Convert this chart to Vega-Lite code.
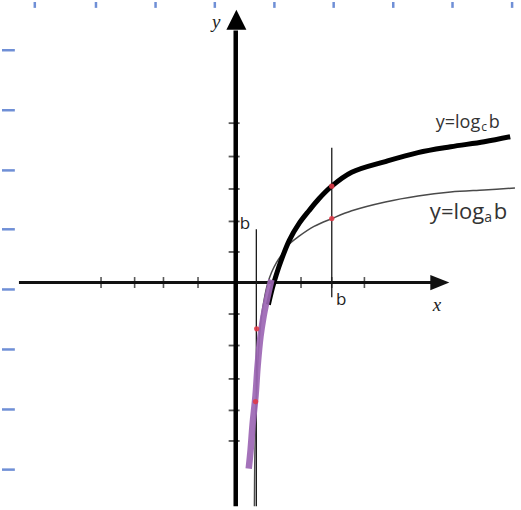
{
  "$schema": "https://vega.github.io/schema/vega-lite/v6.json",
  "width": 521,
  "height": 510,
  "autosize": {"type": "fit", "contains": "padding"},
  "padding": 0,
  "background": "white",
  "config": {"view": {"stroke": null}},
  "datasets": {
    "grid": [
      {"x": -6.34, "y": 8.906, "x2": -6.34, "y2": 8.72},
      {"x": -4.41, "y": 8.906, "x2": -4.41, "y2": 8.72},
      {"x": -2.53, "y": 8.906, "x2": -2.53, "y2": 8.72},
      {"x": -0.66, "y": 8.906, "x2": -0.66, "y2": 8.72},
      {"x": 1.22, "y": 8.906, "x2": 1.22, "y2": 8.72},
      {"x": 3.09, "y": 8.906, "x2": 3.09, "y2": 8.72},
      {"x": 4.97, "y": 8.906, "x2": 4.97, "y2": 8.72},
      {"x": 6.84, "y": 8.906, "x2": 6.84, "y2": 8.72},
      {"x": 8.72, "y": 8.906, "x2": 8.72, "y2": 8.72},
      {"x": -7.375, "y": 7.375, "x2": -6.97, "y2": 7.375},
      {"x": -7.375, "y": 5.47, "x2": -6.97, "y2": 5.47},
      {"x": -7.375, "y": 3.56, "x2": -6.97, "y2": 3.56},
      {"x": -7.375, "y": 1.69, "x2": -6.97, "y2": 1.69},
      {"x": -7.375, "y": -0.22, "x2": -6.97, "y2": -0.22},
      {"x": -7.375, "y": -2.125, "x2": -6.97, "y2": -2.125},
      {"x": -7.375, "y": -4.03, "x2": -6.97, "y2": -4.03},
      {"x": -7.375, "y": -5.94, "x2": -6.97, "y2": -5.94}
    ],
    "xaxis": [{"x": -6.84, "y": 0, "x2": 6.2, "y2": 0}],
    "yaxis": [{"x": 0, "y": -7.1, "x2": 0, "y2": 8.0}],
    "guides": [
      {"x": 3.03, "y": 4.28, "x2": 3.03, "y2": -0.47},
      {"x": 0.65, "y": 1.69, "x2": 0.65, "y2": -7.1}
    ],
    "xticks": [
      {"x": -4.25, "y": 0}, {"x": -3.19, "y": 0}, {"x": -2.28, "y": 0}, {"x": -1.19, "y": 0},
      {"x": 2.06, "y": 0}, {"x": 3.03, "y": 0}, {"x": 4.06, "y": 0}
    ],
    "yticks": [
      {"x": -0.05, "y": 5.06}, {"x": -0.05, "y": 4.0}, {"x": -0.05, "y": 2.97}, {"x": -0.05, "y": 1.94},
      {"x": -0.05, "y": 0.97}, {"x": -0.05, "y": -1.0}, {"x": -0.05, "y": -2.0}, {"x": -0.05, "y": -3.06},
      {"x": -0.05, "y": -4.06}, {"x": -0.05, "y": -5.03}
    ],
    "arrows": [
      {"dir": "up", "x": 0.02, "y": 8.34},
      {"dir": "right", "x": 6.44, "y": 0}
    ],
    "thin": [
      {"i": 1, "x": 8.81, "y": 3.0},
      {"i": 2, "x": 7.84, "y": 2.94},
      {"i": 3, "x": 6.78, "y": 2.875},
      {"i": 4, "x": 5.75, "y": 2.75},
      {"i": 5, "x": 4.72, "y": 2.56},
      {"i": 6, "x": 3.66, "y": 2.28},
      {"i": 7, "x": 3.03, "y": 2.03},
      {"i": 8, "x": 2.47, "y": 1.78},
      {"i": 9, "x": 2.0, "y": 1.47},
      {"i": 10, "x": 1.69, "y": 1.22},
      {"i": 11, "x": 1.47, "y": 0.91},
      {"i": 12, "x": 1.28, "y": 0.625},
      {"i": 13, "x": 1.125, "y": 0.31},
      {"i": 14, "x": 1.0, "y": -0.06},
      {"i": 15, "x": 0.91, "y": -0.47},
      {"i": 16, "x": 0.81, "y": -1.09},
      {"i": 17, "x": 0.75, "y": -1.72},
      {"i": 18, "x": 0.69, "y": -2.66},
      {"i": 19, "x": 0.66, "y": -3.59},
      {"i": 20, "x": 0.625, "y": -4.53},
      {"i": 21, "x": 0.6, "y": -5.78},
      {"i": 22, "x": 0.59, "y": -7.1}
    ],
    "thick": [
      {"i": 1, "x": 8.66, "y": 4.63},
      {"i": 2, "x": 7.84, "y": 4.47},
      {"i": 3, "x": 6.78, "y": 4.31},
      {"i": 4, "x": 5.75, "y": 4.125},
      {"i": 5, "x": 4.72, "y": 3.84},
      {"i": 6, "x": 3.66, "y": 3.5},
      {"i": 7, "x": 3.03, "y": 3.06},
      {"i": 8, "x": 2.625, "y": 2.66},
      {"i": 9, "x": 2.31, "y": 2.28},
      {"i": 10, "x": 2.0, "y": 1.875},
      {"i": 11, "x": 1.69, "y": 1.34},
      {"i": 12, "x": 1.44, "y": 0.72},
      {"i": 13, "x": 1.28, "y": 0.25},
      {"i": 14, "x": 1.16, "y": -0.16},
      {"i": 15, "x": 1.03, "y": -0.7}
    ],
    "purple": [
      {"i": 1, "x": 1.125, "y": 0.09},
      {"i": 2, "x": 1.0, "y": -0.47},
      {"i": 3, "x": 0.875, "y": -1.09},
      {"i": 4, "x": 0.78, "y": -1.72},
      {"i": 5, "x": 0.69, "y": -2.66},
      {"i": 6, "x": 0.625, "y": -3.59},
      {"i": 7, "x": 0.53, "y": -4.53},
      {"i": 8, "x": 0.47, "y": -5.31},
      {"i": 9, "x": 0.41, "y": -5.91}
    ],
    "reds": [
      {"x": 3.03, "y": 3.06},
      {"x": 3.03, "y": 2.03},
      {"x": 0.66, "y": -1.47},
      {"x": 0.625, "y": -3.78}
    ],
    "axisLabels": [
      {"text": "y", "x": -0.75, "y": 8.09},
      {"text": "x", "x": 6.22, "y": -0.91}
    ],
    "bLabels": [
      {"text": "b", "x": 0.125, "y": 1.69},
      {"text": "b", "x": 3.16, "y": -0.72}
    ],
    "curveLabelC": [
      {"text": "y=log", "x": 6.31, "y": 4.91},
      {"text": "b", "x": 7.98, "y": 4.91}
    ],
    "subC": [{"text": "c", "x": 7.75, "y": 4.8}],
    "curveLabelA": [
      {"text": "y=log", "x": 6.125, "y": 2.03},
      {"text": "b", "x": 8.14, "y": 2.03}
    ],
    "subA": [{"text": "a", "x": 7.84, "y": 1.93}]
  },
  "encoding": {
    "x": {"field": "x", "type": "quantitative", "axis": null, "scale": {"domain": [-7.375, 8.90625], "nice": false, "zero": false}},
    "y": {"field": "y", "type": "quantitative", "axis": null, "scale": {"domain": [-7.03125, 8.90625], "nice": false, "zero": false}}
  },
  "layer": [
    {
      "data": {"name": "grid"},
      "mark": {"type": "rule", "color": "#6f8fd6", "strokeWidth": 2.5},
      "encoding": {"x2": {"field": "x2"}, "y2": {"field": "y2"}}
    },
    {
      "data": {"name": "xaxis"},
      "mark": {"type": "rule", "color": "#111111", "strokeWidth": 3},
      "encoding": {"x2": {"field": "x2"}, "y2": {"field": "y2"}}
    },
    {
      "data": {"name": "xticks"},
      "mark": {"type": "tick", "orient": "vertical", "color": "#111111", "size": 11, "thickness": 1.6}
    },
    {
      "data": {"name": "yticks"},
      "mark": {"type": "tick", "orient": "horizontal", "color": "#111111", "size": 11, "thickness": 1.8}
    },
    {
      "data": {"name": "guides"},
      "mark": {"type": "rule", "color": "#1a1a1a", "strokeWidth": 1.3},
      "encoding": {"x2": {"field": "x2"}, "y2": {"field": "y2"}}
    },
    {
      "data": {"name": "thin"},
      "mark": {"type": "line", "color": "#4a4a4a", "strokeWidth": 1.5, "interpolate": "catmull-rom"},
      "encoding": {"order": {"field": "i", "type": "quantitative"}}
    },
    {
      "data": {"name": "thick"},
      "mark": {"type": "line", "color": "#000000", "strokeWidth": 5, "interpolate": "catmull-rom", "strokeCap": "butt"},
      "encoding": {"order": {"field": "i", "type": "quantitative"}}
    },
    {
      "data": {"name": "purple"},
      "mark": {"type": "line", "color": "#9c66b4", "strokeWidth": 6.5, "interpolate": "catmull-rom", "strokeCap": "butt", "opacity": 0.92},
      "encoding": {"order": {"field": "i", "type": "quantitative"}}
    },
    {
      "data": {"name": "yaxis"},
      "mark": {"type": "rule", "color": "#000000", "strokeWidth": 4.5},
      "encoding": {"x2": {"field": "x2"}, "y2": {"field": "y2"}}
    },
    {
      "data": {"name": "arrows"},
      "transform": [{"filter": "datum.dir === 'up'"}],
      "mark": {"type": "point", "shape": "M0,-1L-1,1L1,1Z", "size": 400, "filled": true, "color": "#000000", "opacity": 1}
    },
    {
      "data": {"name": "arrows"},
      "transform": [{"filter": "datum.dir === 'right'"}],
      "mark": {"type": "point", "shape": "M1,0L-1,-0.8L-1,0.8Z", "size": 361, "filled": true, "color": "#111111", "opacity": 1}
    },
    {
      "data": {"name": "reds"},
      "mark": {"type": "circle", "color": "#e03a48", "size": 28, "opacity": 0.9}
    },
    {
      "data": {"name": "axisLabels"},
      "mark": {"type": "text", "font": "Liberation Serif", "fontStyle": "italic", "fontSize": 19, "align": "left", "baseline": "alphabetic", "color": "#222222"},
      "encoding": {"text": {"field": "text"}}
    },
    {
      "data": {"name": "bLabels"},
      "mark": {"type": "text", "font": "Open Sans", "fontSize": 17, "align": "left", "baseline": "alphabetic", "color": "#222222"},
      "encoding": {"text": {"field": "text"}}
    },
    {
      "data": {"name": "curveLabelC"},
      "mark": {"type": "text", "font": "Open Sans", "fontSize": 18, "align": "left", "baseline": "alphabetic", "color": "#333333"},
      "encoding": {"text": {"field": "text"}}
    },
    {
      "data": {"name": "subC"},
      "mark": {"type": "text", "font": "Open Sans", "fontSize": 12, "align": "left", "baseline": "alphabetic", "color": "#333333"},
      "encoding": {"text": {"field": "text"}}
    },
    {
      "data": {"name": "curveLabelA"},
      "mark": {"type": "text", "font": "Open Sans", "fontSize": 22, "align": "left", "baseline": "alphabetic", "color": "#333333"},
      "encoding": {"text": {"field": "text"}}
    },
    {
      "data": {"name": "subA"},
      "mark": {"type": "text", "font": "Open Sans", "fontSize": 14, "align": "left", "baseline": "alphabetic", "color": "#333333"},
      "encoding": {"text": {"field": "text"}}
    }
  ]
}
